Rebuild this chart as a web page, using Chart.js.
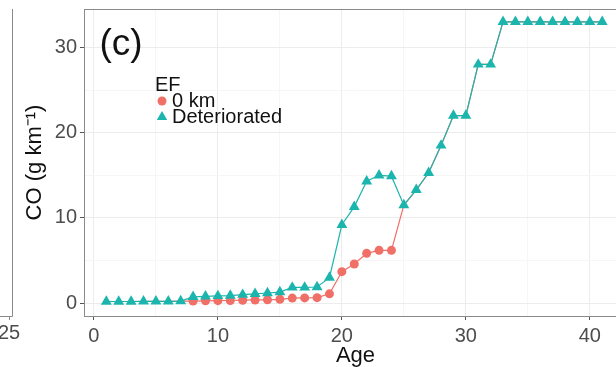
<!DOCTYPE html>
<html>
<head>
<meta charset="utf-8">
<script src="https://cdn.jsdelivr.net/npm/chart.js@4"></script>
<style>
  html, body { margin: 0; padding: 0; background: #fff; overflow: hidden; }
  #wrap { position: relative; width: 616px; height: 367px; overflow: hidden; }
  #coChart { position: absolute; left: 0; top: 0; }
</style>
</head>
<body>
<div id="wrap"><canvas id="coChart" width="640" height="367"></canvas></div>
<script>
// vehicle age (years)
const ages = [1, 2, 3, 4, 5, 6, 7, 8, 9, 10, 11, 12, 13, 14, 15, 16, 17, 18, 19, 20,
  21, 22, 23, 24, 25, 26, 27, 28, 29, 30, 31, 32, 33, 34, 35, 36, 37, 38, 39, 40, 41];

// CO emission factor, g/km
const zeroKm = [0.2, 0.2, 0.2, 0.22, 0.22, 0.22, 0.25, 0.25, 0.28, 0.3, 0.32, 0.35, 0.38, 0.4, 0.45,
  0.6, 0.62, 0.65, 1.1, 3.7, 4.6, 5.85, 6.2, 6.2, 11.5, 13.3, 15.3, 18.5, 22.0, 22.0,
  28.0, 28.0, 33.0, 33.0, 33.0, 33.0, 33.0, 33.0, 33.0, 33.0, 33.0];
const deteriorated = [0.2, 0.2, 0.2, 0.22, 0.22, 0.22, 0.25, 0.75, 0.8, 0.85, 0.9, 1.0, 1.1, 1.2, 1.3,
  1.85, 1.85, 1.9, 3.0, 9.2, 11.3, 14.3, 15.0, 14.9, 11.5, 13.3, 15.3, 18.5, 22.0, 22.0,
  28.0, 28.0, 33.0, 33.0, 33.0, 33.0, 33.0, 33.0, 33.0, 33.0, 33.0];

const xTicks = [0, 5, 10, 15, 20, 25, 30, 35, 40];
const yTicks = [0, 5, 10, 15, 20, 25, 30];

const RED = '#f07068';
const TEAL = '#1cb5ad';
const FONT = "'Liberation Sans', Arial, sans-serif";

const toPoints = (ys) => ages.map((a, i) => ({ x: a, y: ys[i] }));

// major ticks get labels and tick marks, minor ones only a faint grid line
const setTicks = (list) => (scale) => {
  scale.ticks = list.map((v) => ({ value: v, major: v % 10 === 0 }));
};
const gridOpts = {
  color: (c) => (c.tick && c.tick.major ? '#ececec' : '#f6f6f6'),
  tickColor: (c) => (c.tick && c.tick.major ? '#555' : 'rgba(0,0,0,0)'),
  lineWidth: 1,
  tickLength: 4,
  drawTicks: true
};

// panel border, panel tag, legend and the edge of the neighbouring panel
const decor = {
  id: 'decor',
  afterDraw(chart) {
    const { ctx, chartArea: a } = chart;
    ctx.save();
    ctx.strokeStyle = '#8a8a8a';
    ctx.lineWidth = 1;
    ctx.strokeRect(a.left + 0.5, a.top + 0.5, a.right - a.left, a.bottom - a.top);

    // neighbouring panel edge
    ctx.beginPath();
    ctx.moveTo(12.5, a.top);
    ctx.lineTo(12.5, a.bottom + 0.5);
    ctx.lineTo(0, a.bottom + 0.5);
    ctx.moveTo(9.5, a.bottom);
    ctx.lineTo(9.5, a.bottom + 4);
    ctx.stroke();
    ctx.fillStyle = '#4d4d4d';
    ctx.font = '20px ' + FONT;
    ctx.textAlign = 'center';
    ctx.textBaseline = 'middle';
    ctx.fillText('25', 9, 333);

    // panel tag
    ctx.fillStyle = '#111';
    ctx.font = '37px ' + FONT;
    ctx.fillText('(c)', 121, 45);

    // legend
    ctx.textAlign = 'left';
    ctx.font = '20px ' + FONT;
    ctx.fillText('EF', 155, 85);
    const items = [chart.data.datasets[0], chart.data.datasets[1]];
    items.forEach((ds, i) => {
      const y = 101 + i * 16;
      ctx.fillStyle = ds.pointBackgroundColor;
      ctx.strokeStyle = ds.pointBackgroundColor;
      Chart.helpers.drawPoint(ctx, { pointStyle: ds.pointStyle, radius: ds.legendRadius, borderWidth: 0 }, 162, y);
      ctx.fillStyle = '#111';
      ctx.fillText(ds.label, 172, y);
    });
    ctx.restore();
  }
};

new Chart(document.getElementById('coChart'), {
  type: 'line',
  data: {
    datasets: [
      {
        label: '0 km',
        data: toPoints(zeroKm),
        borderColor: RED,
        borderWidth: 1.2,
        pointStyle: 'circle',
        // circles sitting under an identical triangle are covered by it
        pointRadius: (c) => (zeroKm[c.dataIndex] === deteriorated[c.dataIndex] ? 0 : 4.5),
        legendRadius: 4.5,
        pointBackgroundColor: RED,
        pointBorderWidth: 0,
        order: 1
      },
      {
        label: 'Deteriorated',
        data: toPoints(deteriorated),
        borderColor: TEAL,
        borderWidth: 1.2,
        pointStyle: 'triangle',
        pointRadius: 6.3,
        legendRadius: 6,
        pointBackgroundColor: TEAL,
        pointBorderWidth: 0,
        order: 0
      }
    ]
  },
  options: {
    responsive: false,
    animation: false,
    devicePixelRatio: 1,
    layout: { padding: { top: 9, right: 13, left: 0, bottom: 0 } },
    plugins: { legend: { display: false }, tooltip: { enabled: false } },
    scales: {
      x: {
        type: 'linear',
        min: -0.8,
        max: 43,
        afterBuildTicks: setTicks(xTicks),
        afterFit: (s) => { s.height = 51; s.paddingLeft = 0; s.paddingRight = 0; },
        grid: gridOpts,
        border: { display: false },
        ticks: {
          callback: (v) => (v % 10 === 0 ? v : ''),
          color: '#4d4d4d',
          font: { family: FONT, size: 20 },
          padding: 4,
          maxRotation: 0,
          autoSkip: false
        },
        title: {
          display: true,
          text: 'Age',
          color: '#111',
          font: { family: FONT, size: 22, lineHeight: 1 },
          padding: { top: 0, bottom: 0 }
        }
      },
      y: {
        min: -1.5,
        max: 34.5,
        afterBuildTicks: setTicks(yTicks),
        afterFit: (s) => { s.width = 84; s.paddingTop = 0; s.paddingBottom = 0; },
        grid: gridOpts,
        border: { display: false },
        ticks: {
          callback: (v) => (v % 10 === 0 ? v : ''),
          color: '#4d4d4d',
          font: { family: FONT, size: 20 },
          padding: 3,
          autoSkip: false
        },
        title: {
          display: true,
          text: 'CO (g km⁻¹)',
          color: '#111',
          font: { family: FONT, size: 22, lineHeight: 1.2 },
          padding: { top: 22, bottom: 0 }
        }
      }
    }
  },
  plugins: [decor]
});
</script>
</body>
</html>
